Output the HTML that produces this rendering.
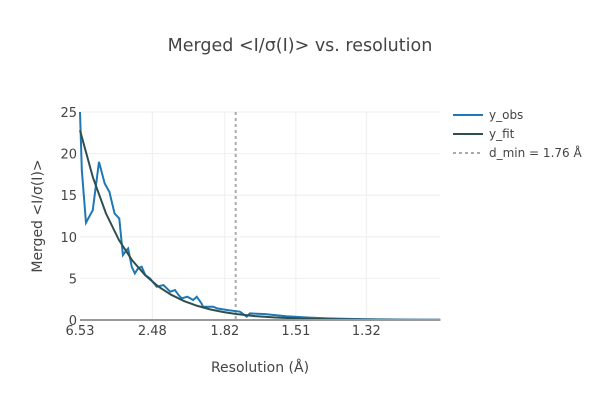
<!DOCTYPE html>
<html><head><meta charset="utf-8"><style>
body{margin:0;background:#fff;font-family:"DejaVu Sans","Liberation Sans",sans-serif}
</style></head><body>
<svg id="chart" width="600" height="400" xmlns="http://www.w3.org/2000/svg" style="font-family:'DejaVu Sans','Liberation Sans',sans-serif">
<rect width="600" height="400" fill="#fff"/>
<text x="300" y="51" text-anchor="middle" font-size="17.5" fill="#444">Merged &lt;I/σ(I)&gt; vs. resolution</text>
<g id="grid"></g>
<g id="marks"></g>
<g id="axes"></g>
<text x="260" y="372" text-anchor="middle" font-size="14" fill="#444">Resolution (Å)</text>
<text transform="translate(42,216) rotate(-90)" text-anchor="middle" font-size="14" fill="#444">Merged &lt;I/σ(I)&gt;</text>
<g>
<g><line x1="453" y1="115" x2="483" y2="115" stroke="#1f77b4" stroke-width="2"/><text x="489" y="119" font-size="12" fill="#444">y_obs</text></g>
<g><line x1="453" y1="134" x2="483" y2="134" stroke="#2f4f4f" stroke-width="2"/><text x="489" y="138" font-size="12" fill="#444">y_fit</text></g>
<g><line x1="453" y1="153" x2="483" y2="153" stroke="#aaa" stroke-width="2" stroke-dasharray="3,3"/><text x="489" y="157" font-size="12" fill="#444">d_min = 1.76 Å</text></g>
</g>
</svg>
<script>
const xTickVals=[0.0235,0.1626,0.302,0.4386,0.574];
const xTickLabels=["6.53","2.48","1.82","1.51","1.32"];
const yTicks=[0,5,10,15,20,25];
const obsS=[0.0235,0.027,0.035,0.048,0.060,0.071,0.080,0.090,0.099,0.106,0.113,0.116,0.123,0.129,0.135,0.142,0.149,0.158,0.171,0.184,0.197,0.206,0.213,0.219,0.230,0.241,0.248,0.257,0.260,0.280,0.287,0.306,0.331,0.344,0.350,0.380,0.420,0.460,0.500,0.550,0.600,0.650,0.716];
const obsY=[25,18,11.7,13.2,19,16.4,15.4,12.8,12.2,7.8,8.4,8.6,6.4,5.6,6.2,6.4,5.4,5.0,4.0,4.2,3.4,3.6,3.0,2.6,2.8,2.4,2.8,2.0,1.6,1.6,1.4,1.2,1.0,0.4,0.8,0.7,0.45,0.3,0.2,0.12,0.08,0.05,0.03];
const fitS=[0.0235,0.0485,0.0735,0.0985,0.1235,0.1485,0.1735,0.1985,0.2235,0.2485,0.2735,0.2985,0.3235,0.36,0.40,0.45,0.5,0.55,0.6,0.65,0.716];
const fitY=[22.8,17.1,12.8,9.6,7.2,5.4,4.05,3.04,2.28,1.71,1.28,0.96,0.72,0.47,0.30,0.17,0.095,0.053,0.03,0.018,0.008];
const dminS=0.3228;
const X0=80,X1=440,Y0=320,Y1=112;
const sMin=0.0235,sMax=0.0235+360*0.139/72.3;
const xs=s=>X0+(s-sMin)/(sMax-sMin)*(X1-X0);
const ys=v=>Y0-v/25*(Y0-Y1);
const NS="http://www.w3.org/2000/svg";
function mk(t,a,p){const e=document.createElementNS(NS,t);for(const k in a)e.setAttribute(k,a[k]);p.appendChild(e);return e;}
const grid=document.getElementById('grid'),marks=document.getElementById('marks'),axes=document.getElementById('axes');
yTicks.forEach(v=>{
 if(v>0){const l=mk('line',{x1:X0,x2:X1,y1:ys(v),y2:ys(v),stroke:'#eee','stroke-width':1},grid);
 
 }
 const t=mk('text',{x:X0-3,y:ys(v)+5,'text-anchor':'end','font-size':13,fill:'#444'},axes);t.textContent=v;
 
 
});
xTickVals.forEach((s,i)=>{
 if(i>0){const l=mk('line',{x1:xs(s),x2:xs(s),y1:Y1,y2:Y0,stroke:'#eee','stroke-width':1},grid);
 
 }
 const t=mk('text',{x:xs(s),y:Y0+15,'text-anchor':'middle','font-size':13,fill:'#444'},axes);t.textContent=xTickLabels[i];
 
 
});
const ax=mk('line',{x1:X0,x2:X1,y1:Y0,y2:Y0,stroke:'#999','stroke-width':2},axes);


const dl=mk('line',{x1:xs(dminS),x2:xs(dminS),y1:Y1,y2:Y0,stroke:'#aaa','stroke-width':2,'stroke-dasharray':'3,3'},marks);


const po=mk('polyline',{points:obsS.map((s,i)=>xs(s)+','+ys(obsY[i])).join(' '),fill:'none',stroke:'#1f77b4','stroke-width':2},marks);


const pf=mk('polyline',{points:fitS.map((s,i)=>xs(s)+','+ys(fitY[i])).join(' '),fill:'none',stroke:'#2f4f4f','stroke-width':2},marks);


</script>
</body></html>
